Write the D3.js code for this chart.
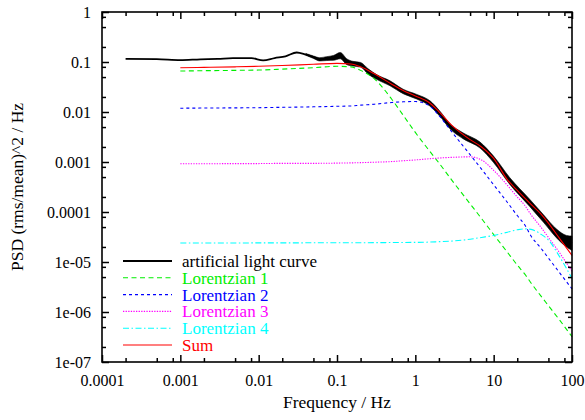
<!DOCTYPE html>
<html><head><meta charset="utf-8">
<script src="https://cdn.jsdelivr.net/npm/d3@7"></script>
<style>body{margin:0;background:#fff}</style>
</head><body>
<svg id="chart" width="585" height="420" font-family="Liberation Serif"></svg>
<script>
// ---------- data ----------
const xTickValues = [1e-4, 1e-3, 0.01, 0.1, 1, 10, 100];
const xTickLabels = ["0.0001", "0.001", "0.01", "0.1", "1", "10", "100"];
const yTickValues = [1, 0.1, 0.01, 1e-3, 1e-4, 1e-5, 1e-6, 1e-7];
const yTickLabels = ["1", "0.1", "0.01", "0.001", "0.0001", "1e-05", "1e-06", "1e-07"];
const minorMultipliers = [2, 5, 8];

const seriesNames = ["artificial light curve", "Lorentzian 1", "Lorentzian 2", "Lorentzian 3", "Lorentzian 4", "Sum"];

// artificial light curve: central trace
const lcFreq = [0.0002, 0.0005, 0.001, 0.0018, 0.003, 0.0047, 0.0081, 0.0114, 0.016, 0.022, 0.0306, 0.04, 0.05, 0.062, 0.074, 0.09, 0.11, 0.134, 0.16, 0.197, 0.25, 0.32, 0.475, 0.7, 1.04, 1.54, 2.06, 2.77, 4.1, 6.7, 9.9, 16, 29, 43, 64, 85, 100];
const lcPSD  = [0.115, 0.114, 0.109, 0.113, 0.115, 0.119, 0.119, 0.108, 0.12, 0.13, 0.155, 0.14, 0.125, 0.113, 0.117, 0.12, 0.135, 0.1, 0.092, 0.088, 0.064, 0.05, 0.0375, 0.0255, 0.0202, 0.0148, 0.0092, 0.0052, 0.0033, 0.0022, 0.00115, 0.00042, 0.00015, 7.5e-5, 3.7e-5, 2.7e-5, 2.4e-5];
// light curve noise envelope
const bandFreq = [0.04, 0.05, 0.06, 0.074, 0.09, 0.11, 0.134, 0.16, 0.2, 0.25, 0.32, 0.475, 0.7, 1.04, 1.54, 2.06, 2.77, 4.1, 6.7, 9.9, 16, 29, 43, 64, 85, 100];
const bandLow  = [0.136, 0.118, 0.105, 0.107, 0.108, 0.116, 0.088, 0.083, 0.079, 0.057, 0.045, 0.0335, 0.0232, 0.0182, 0.0131, 0.0082, 0.0046, 0.0029, 0.0019, 0.00099, 0.00036, 0.000128, 6.3e-5, 3.0e-5, 2.0e-5, 1.7e-5];
const bandHigh = [0.148, 0.132, 0.122, 0.128, 0.135, 0.155, 0.115, 0.103, 0.098, 0.073, 0.056, 0.042, 0.0285, 0.0225, 0.0167, 0.0104, 0.0058, 0.0038, 0.0025, 0.00133, 0.00049, 0.000178, 8.9e-5, 4.5e-5, 3.4e-5, 3.3e-5];

// model curves
const modelFreq = [0.001, 0.002, 0.005, 0.01, 0.02, 0.05, 0.1, 0.15, 0.2, 0.3, 0.5, 0.7, 1, 1.5, 2, 3, 5, 7, 10, 15, 20, 25, 30, 40, 50, 70, 100];
const lor1 = [0.066, 0.067, 0.068, 0.069, 0.072, 0.077, 0.082, 0.08, 0.068, 0.046, 0.018, 0.0086, 0.0039, 0.0017, 0.00096, 0.00041, 0.000146, 7.4e-5, 3.55e-5, 1.56e-5, 8.7e-6, 5.7e-6, 3.8e-6, 2.1e-6, 1.34e-6, 6.8e-7, 3.2e-7];
const lor2 = [0.0119, 0.012, 0.0121, 0.0122, 0.0124, 0.0127, 0.013, 0.0132, 0.0137, 0.0143, 0.0155, 0.016, 0.0162, 0.0135, 0.0085, 0.0038, 0.0014, 0.00072, 0.00035, 0.000155, 8.5e-5, 5.5e-5, 3.3e-5, 1.9e-5, 1.2e-5, 6.0e-6, 2.9e-6];
const lor3 = [0.00092, 0.00092, 0.00093, 0.00093, 0.00094, 0.00094, 0.00095, 0.00096, 0.00097, 0.00099, 0.00102, 0.00106, 0.0011, 0.00116, 0.0012, 0.00124, 0.00127, 0.0011, 0.00068, 0.00034, 0.0002, 0.000135, 8.8e-5, 5.0e-5, 3.1e-5, 1.5e-5, 6.5e-6];
const lor4 = [2.4e-5, 2.4e-5, 2.4e-5, 2.41e-5, 2.41e-5, 2.42e-5, 2.42e-5, 2.43e-5, 2.43e-5, 2.44e-5, 2.45e-5, 2.46e-5, 2.47e-5, 2.5e-5, 2.55e-5, 2.63e-5, 2.85e-5, 3.1e-5, 3.4e-5, 3.95e-5, 4.4e-5, 4.6e-5, 4.5e-5, 3.6e-5, 2.75e-5, 1.25e-5, 4.7e-6];
const sumModel = [0.077, 0.078, 0.08, 0.082, 0.085, 0.09, 0.094, 0.091, 0.08, 0.058, 0.036, 0.027, 0.021, 0.0155, 0.0102, 0.0052, 0.0028, 0.002, 0.00118, 0.00044, 0.00027, 0.00019, 0.000142, 9.2e-5, 6.0e-5, 2.9e-5, 1.35e-5];

// ---------- drawing ----------
const svg = d3.select("#chart");
svg.append("rect").attr("width", 585).attr("height", 420).attr("fill", "#fff");

const L = 102, R = 572, T = 12, B = 362;
const x = d3.scaleLog().domain([1e-4, 100]).range([L, R]);
const y = d3.scaleLog().domain([1e-7, 1]).range([B, T]);

const xMinor = [];
xTickValues.slice(0, -1).forEach(d => minorMultipliers.forEach(k => xMinor.push(d * k)));
const yMinor = [];
yTickValues.slice(1).forEach(d => minorMultipliers.forEach(k => yMinor.push(d * k)));

const line = d3.line().x(d => x(d[0])).y(d => y(d[1])).curve(d3.curveMonotoneX);
const area = d3.area().x(d => x(d[0])).y0(d => y(d[1])).y1(d => y(d[2])).curve(d3.curveMonotoneX);

const plot = svg.append("g");

plot.append("path")
  .datum(bandFreq.map((f, i) => [f, bandLow[i], bandHigh[i]]))
  .attr("d", area).attr("fill", "#000").attr("stroke", "#000").attr("stroke-width", 0.6);
plot.append("path")
  .datum(lcFreq.map((f, i) => [f, lcPSD[i]]))
  .attr("d", line).attr("fill", "none").attr("stroke", "#000").attr("stroke-width", 1.8);

const styles = [
  {data: lor1, color: "#00ee00", dash: "5,3.5", w: 1.1},
  {data: lor2, color: "#0000ff", dash: "3,3", w: 1.1},
  {data: lor3, color: "#ff00ff", dash: "1.3,1.3", w: 1.1},
  {data: lor4, color: "#00ffff", dash: "6,2.5,1.5,2.5", w: 1.1},
  {data: sumModel, color: "#ff0000", dash: null, w: 1.1}
];
styles.forEach(s => {
  plot.append("path")
    .datum(modelFreq.map((f, i) => [f, s.data[i]]))
    .attr("d", line).attr("fill", "none")
    .attr("stroke", s.color).attr("stroke-width", s.w)
    .attr("stroke-dasharray", s.dash);
});

// axes (ticks inward, mirrored)
function styleAxis(g) {
  g.attr("font-family", "Liberation Serif").attr("font-size", 16);
  g.select(".domain").remove();
  g.selectAll(".tick line").attr("stroke", "#000").attr("stroke-width", 1.5);
  g.selectAll("text").attr("font-family", "Liberation Serif").attr("font-size", 16).attr("fill", "#000");
}
svg.append("g").attr("transform", `translate(0,${B})`)
  .call(d3.axisBottom(x).tickValues(xTickValues).tickSize(-7).tickPadding(13)
        .tickFormat((d, i) => xTickLabels[i])).call(styleAxis);
svg.append("g").attr("transform", `translate(0,${B})`)
  .call(d3.axisBottom(x).tickValues(xMinor).tickSize(-4).tickFormat("")).call(styleAxis);
svg.append("g").attr("transform", `translate(0,${T})`)
  .call(d3.axisTop(x).tickValues(xTickValues).tickSize(-7).tickFormat("")).call(styleAxis);
svg.append("g").attr("transform", `translate(0,${T})`)
  .call(d3.axisTop(x).tickValues(xMinor).tickSize(-4).tickFormat("")).call(styleAxis);
svg.append("g").attr("transform", `translate(${L},0)`)
  .call(d3.axisLeft(y).tickValues(yTickValues).tickSize(-7).tickPadding(11)
        .tickFormat((d, i) => yTickLabels[i])).call(styleAxis);
svg.append("g").attr("transform", `translate(${L},0)`)
  .call(d3.axisLeft(y).tickValues(yMinor).tickSize(-4).tickFormat("")).call(styleAxis);
svg.append("g").attr("transform", `translate(${R},0)`)
  .call(d3.axisRight(y).tickValues(yTickValues).tickSize(-7).tickFormat("")).call(styleAxis);
svg.append("g").attr("transform", `translate(${R},0)`)
  .call(d3.axisRight(y).tickValues(yMinor).tickSize(-4).tickFormat("")).call(styleAxis);

svg.append("rect").attr("x", L).attr("y", T).attr("width", R - L).attr("height", B - T)
  .attr("fill", "none").attr("stroke", "#000").attr("stroke-width", 1.6);

// axis labels
svg.append("text").attr("x", (L + R) / 2).attr("y", 408).attr("text-anchor", "middle")
  .attr("font-family", "Liberation Serif").attr("font-size", 17.5).text("Frequency / Hz");
svg.append("text").attr("transform", `translate(17,${(T + B) / 2}) rotate(-90)`)
  .attr("text-anchor", "middle").attr("dy", "0.35em")
  .attr("font-family", "Liberation Serif").attr("font-size", 17.5)
  .text("PSD (rms/mean)^2 / Hz");

// legend
const legendStyles = [{color: "#000", dash: null, w: 2}].concat(styles);
const legendTextColors = ["#000", "#00ee00", "#0000ff", "#ff00ff", "#00ffff", "#ff0000"];
const lg = svg.append("g");
seriesNames.forEach((name, i) => {
  const yy = 261 + i * 16.8;
  lg.append("line").attr("x1", 123).attr("x2", 172).attr("y1", yy).attr("y2", yy)
    .attr("stroke", legendStyles[i].color).attr("stroke-width", legendStyles[i].w)
    .attr("stroke-dasharray", legendStyles[i].dash);
  lg.append("text").attr("x", 182).attr("y", yy).attr("dy", "0.35em")
    .attr("font-family", "Liberation Serif").attr("font-size", 17)
    .attr("fill", legendTextColors[i]).text(name);
});
</script>
</body></html>
